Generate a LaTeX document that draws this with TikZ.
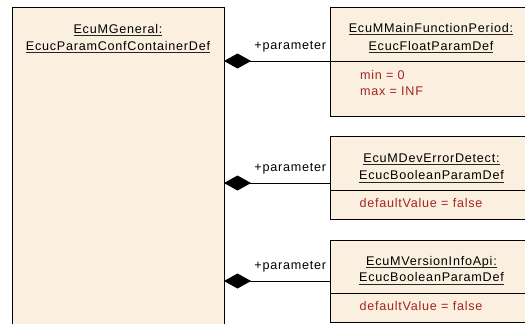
\documentclass[tikz,border=0pt]{standalone}
\usepackage{fontspec}
\setmainfont{Liberation Sans}[LetterSpace=6]
\usetikzlibrary{arrows.meta}
\definecolor{boxfill}{RGB}{251,240,224}
\definecolor{attrred}{RGB}{165,35,35}
\begin{document}
\begin{tikzpicture}[x=1pt,y=-1pt,
  every node/.style={font=\fontsize{12.6}{15}\selectfont, inner sep=0pt, outer sep=0pt},
  cls/.style={draw=black, line width=0.9pt, fill=boxfill, anchor=north west},
  sepline/.style={draw=black, line width=0.9pt},
  ttl/.style={anchor=base},
  ulline/.style={draw=black!85, line width=0.8pt},
  att/.style={anchor=base west, text=attrred},
  lbl/.style={anchor=base east},
  comp/.style={draw=black, line width=0.9pt, {Diamond[length=27pt,width=15pt]}-}
]
\useasboundingbox (0,0) rectangle (525,324);
\clip (0,0) rectangle (525,324);

% general container
\node[cls, minimum width=212pt, minimum height=340pt] (gen) at (12,7) {};
\node[ttl] (g1) at (118,33) {EcuMGeneral:};
\node[ttl] (g2) at (118,50) {EcucParamConfContainerDef};
\draw[ulline] ([yshift=-2pt]g1.base west) -- ([yshift=-2pt]g1.base east);
\draw[ulline] ([yshift=-2.3pt]g2.base west) -- ([yshift=-2.3pt]g2.base east);

% box 1
\node[cls, minimum width=202pt, minimum height=109pt] (b1) at (330,7) {};
\node[ttl] (t1a) at (431,32.5) {EcuMMainFunctionPeriod:};
\node[ttl] (t1b) at (431,50.3) {EcucFloatParamDef};
\draw[ulline] ([yshift=-2pt]t1a.base west) -- ([yshift=-2pt]t1a.base east);
\draw[ulline] ([yshift=-2.5pt]t1b.base west) -- ([yshift=-2.5pt]t1b.base east);
\draw[sepline] (330,61) -- (532,61);
\node[att] (a1a) at (360,79) {min = 0};
\node[att] (a1b) at (360,95) {max = INF};

% box 2
\node[cls, minimum width=202pt, minimum height=83pt] (b2) at (330,136) {};
\node[ttl] (t2a) at (431.5,162.7) {EcuMDevErrorDetect:};
\node[ttl] (t2b) at (431.5,179.3) {EcucBooleanParamDef};
\draw[ulline] ([yshift=-2pt]t2a.base west) -- ([yshift=-2pt]t2a.base east);
\draw[ulline] ([yshift=-2.7pt]t2b.base west) -- ([yshift=-2.7pt]t2b.base east);
\draw[sepline] (330,190) -- (532,190);
\node[att] (a2) at (359.5,207.3) {defaultValue = false};

% box 3
\node[cls, minimum width=202pt, minimum height=82pt] (b3) at (330,240) {};
\node[ttl] (t3a) at (431.5,265) {EcuMVersionInfoApi:};
\node[ttl] (t3b) at (431.5,281.5) {EcucBooleanParamDef};
\draw[ulline] ([yshift=-2pt]t3a.base west) -- ([yshift=-2pt]t3a.base east);
\draw[ulline] ([yshift=-2.7pt]t3b.base west) -- ([yshift=-2.7pt]t3b.base east);
\draw[sepline] (330,293) -- (532,293);
\node[att] (a3) at (359.5,310) {defaultValue = false};

% connectors
\coordinate (p1) at (330,61);
\coordinate (p2) at (330,183);
\coordinate (p3) at (330,281);
\draw[comp] (gen.east |- p1) -- (b1.west |- p1);
\draw[comp] (gen.east |- p2) -- (b2.west |- p2);
\draw[comp] (gen.east |- p3) -- (b3.west |- p3);
\node[lbl] (l1) at (326,49) {+parameter};
\node[lbl] (l2) at (326,171.5) {+parameter};
\node[lbl] (l3) at (326,269) {+parameter};
\end{tikzpicture}
\end{document}
